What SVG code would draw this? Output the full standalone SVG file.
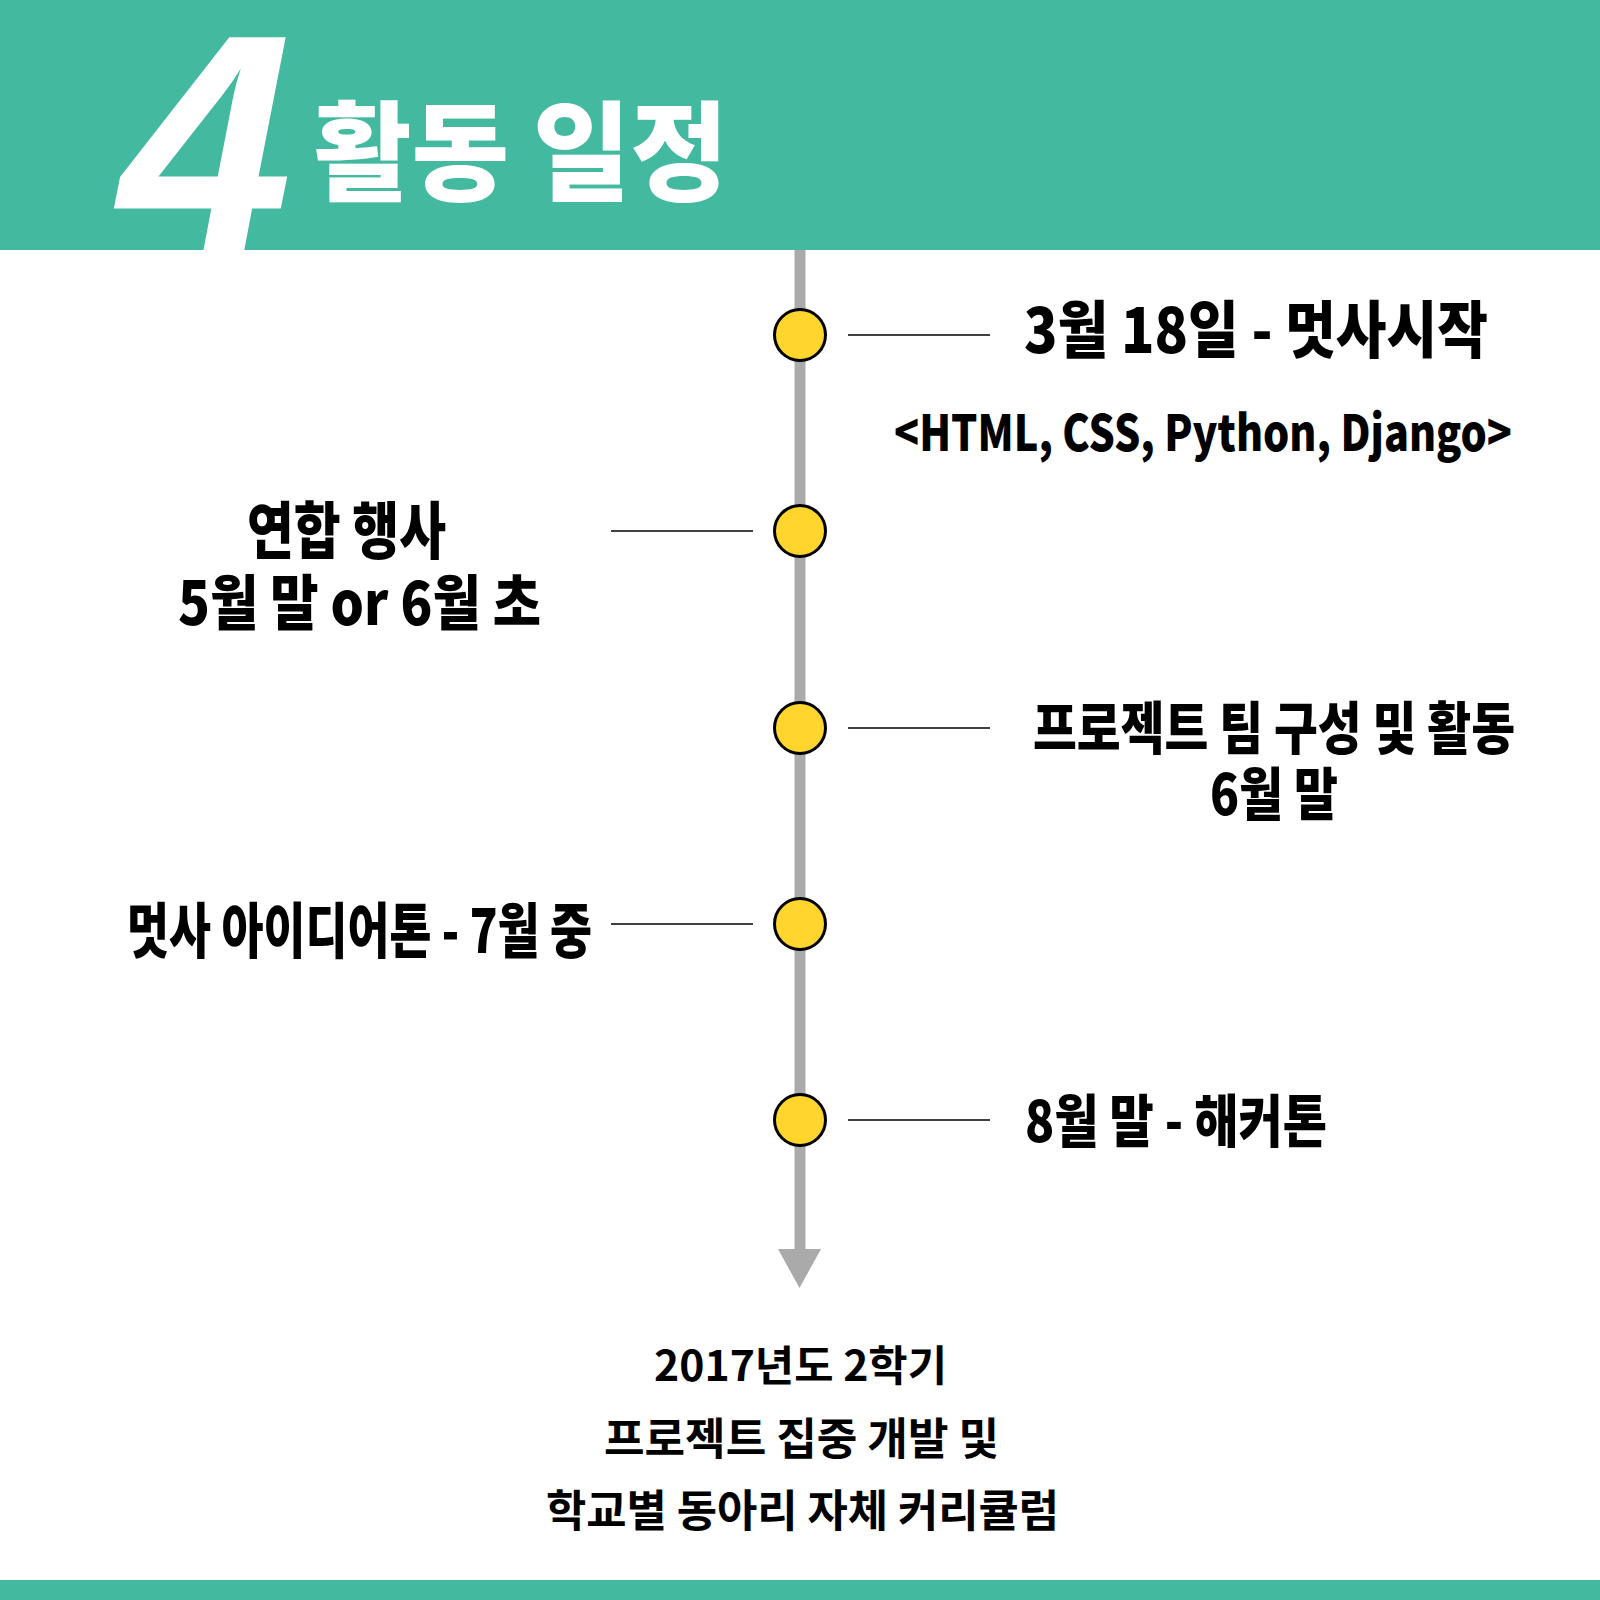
<svg xmlns="http://www.w3.org/2000/svg" width="1600" height="1600" viewBox="0 0 1600 1600">
<defs>
<style>
.t{font-family:"Noto Sans CJK KR","Noto Sans",sans-serif;font-weight:900;fill:#000;}
.b{font-family:"Noto Sans CJK KR","Noto Sans",sans-serif;font-weight:700;fill:#000;}
.dot{fill:#FFD52E;stroke:#000;stroke-width:3;}
.con{stroke:#000;stroke-width:1.5;}
</style>
</defs>
<rect x="0" y="0" width="1600" height="1600" fill="#fff"/>
<g id="header">
<rect x="0" y="0" width="1600" height="250" fill="#43B9A0"/>
<text x="0" y="0" transform="translate(119,252)" font-family="Liberation Sans, sans-serif" font-weight="700" font-style="italic" font-size="312" fill="#fff">4</text>
<text x="314" y="192" font-family="Noto Sans CJK KR, sans-serif" font-weight="900" font-size="108" fill="#fff" textLength="414" lengthAdjust="spacingAndGlyphs">활동 일정</text>
</g>
<rect id="footer" x="0" y="1580" width="1600" height="20" fill="#43B9A0"/>
<g id="connectors">
<line x1="800" y1="250" x2="800" y2="1252" stroke="#AAAAAA" stroke-width="11"/>
<polygon points="778,1249 821,1249 799.5,1288" fill="#AAAAAA"/>
<line class="con" x1="848" y1="335" x2="990" y2="335"/>
<line class="con" x1="611" y1="531" x2="753" y2="531"/>
<line class="con" x1="848" y1="728" x2="990" y2="728"/>
<line class="con" x1="611" y1="924" x2="753" y2="924"/>
<line class="con" x1="848" y1="1120" x2="990" y2="1120"/>
</g>
<g id="n1">
<circle class="dot" cx="800" cy="335" r="25.5"/>
<text class="t" x="1024" y="353" font-size="62" textLength="464" lengthAdjust="spacingAndGlyphs">3월 18일 - 멋사시작</text>
<text class="t" x="894" y="451" font-size="50" textLength="618" lengthAdjust="spacingAndGlyphs">&lt;HTML, CSS, Python, Django&gt;</text>
</g>
<g id="n2">
<circle class="dot" cx="800" cy="531" r="25.5"/>
<text class="t" x="247" y="554" font-size="62" textLength="199" lengthAdjust="spacingAndGlyphs">연합 행사</text>
<text class="t" x="178" y="625" font-size="60" textLength="363" lengthAdjust="spacingAndGlyphs">5월 말 or 6월 초</text>
</g>
<g id="n3">
<circle class="dot" cx="800" cy="728" r="25.5"/>
<text class="t" x="1033" y="749" font-size="57" textLength="482" lengthAdjust="spacingAndGlyphs">프로젝트 팀 구성 및 활동</text>
<text class="t" x="1210" y="815" font-size="57" textLength="128" lengthAdjust="spacingAndGlyphs">6월 말</text>
</g>
<g id="n4">
<circle class="dot" cx="800" cy="924" r="25.5"/>
<text class="t" x="127" y="953" font-size="60" textLength="465" lengthAdjust="spacingAndGlyphs">멋사 아이디어톤 - 7월 중</text>
</g>
<g id="n5">
<circle class="dot" cx="800" cy="1120" r="25.5"/>
<text class="t" x="1025" y="1142" font-size="57" textLength="302" lengthAdjust="spacingAndGlyphs">8월 말 - 해커톤</text>
</g>
<g id="n6">
<text class="b" x="654" y="1381" font-size="42" textLength="293" lengthAdjust="spacingAndGlyphs">2017년도 2학기</text>
<text class="b" x="604" y="1455" font-size="44" textLength="395" lengthAdjust="spacingAndGlyphs">프로젝트 집중 개발 및</text>
<text class="b" x="546" y="1527" font-size="44" textLength="513" lengthAdjust="spacingAndGlyphs">학교별 동아리 자체 커리큘럼</text>
</g>
</svg>
